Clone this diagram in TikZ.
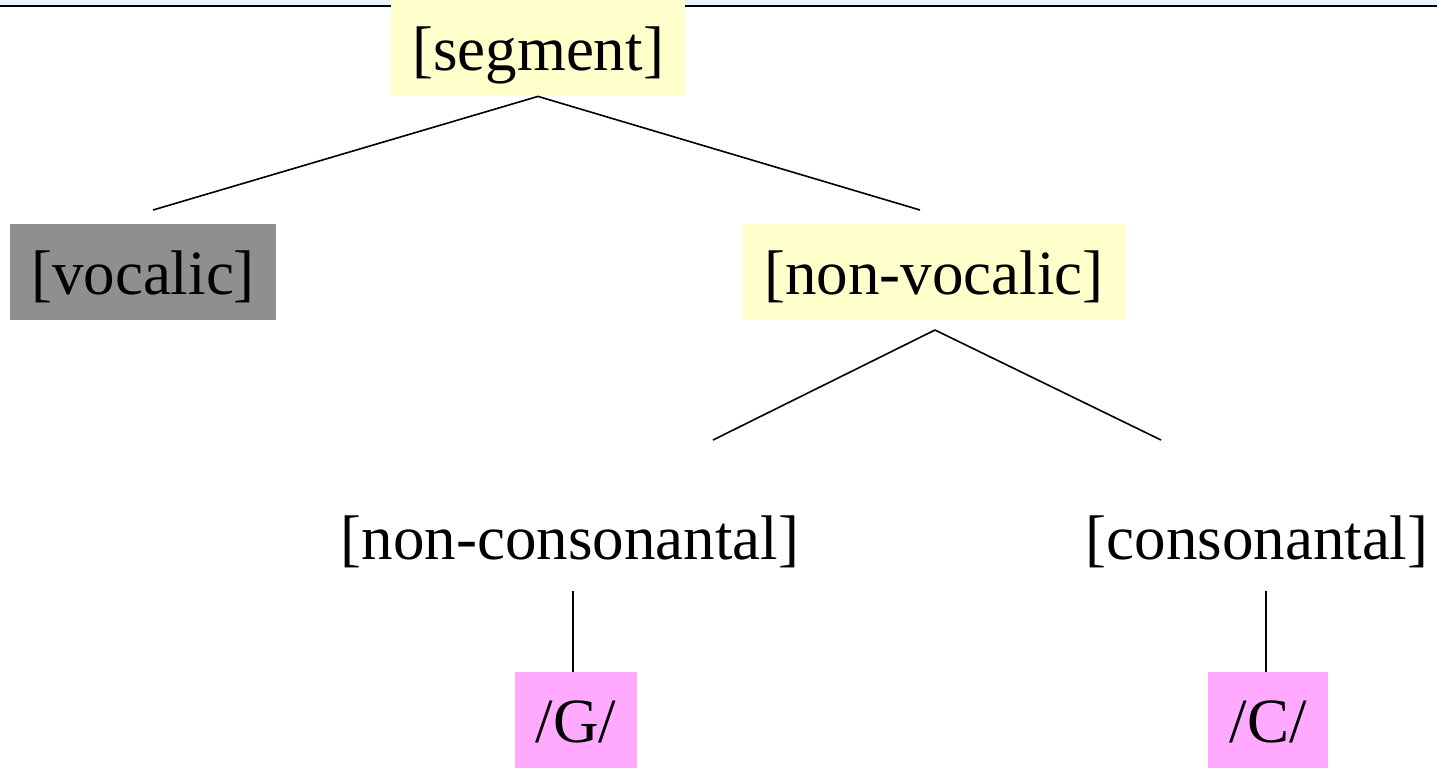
\documentclass[tikz,border=0pt]{standalone}
\usepackage{fontspec}
\setmainfont{Liberation Serif}
\usetikzlibrary{positioning}
\definecolor{paleyellow}{HTML}{FFFFCC}
\definecolor{midgray}{HTML}{8F8F8F}
\definecolor{lilac}{HTML}{FFAAFF}
\definecolor{paleblue}{HTML}{E8F4FF}
\tikzset{
    feature/.style={font=\fontsize{31.5}{38}\selectfont, inner xsep=10.5pt, inner ysep=0pt,
        minimum height=48pt, text height=28pt, text depth=6pt},
    branch/.style={line width=0.8pt}
}
\begin{document}
\begin{tikzpicture}[x=0.5pt, y=-0.5pt]

\useasboundingbox (0,0) rectangle (1437,768);
\fill[paleblue] (0,0) rectangle (1437,5);
\draw[line width=1.2pt] (0,6) -- (1437,6);

\node[feature, fill=paleyellow] (segment) at (538,48) {[segment]};
\node[feature, fill=midgray] (vocalic) at (143,272) {[vocalic]};
\node[feature, fill=paleyellow] (nonvocalic) at (934,272) {[non-vocalic]};
\node[feature] (noncons) at (570,537) {[non-consonantal]};
\node[feature] (cons) at (1257,537) {[consonantal]};
\node[feature, fill=lilac] (G) at (576,720) {/G/};
\node[feature, fill=lilac] (C) at (1268,720) {/C/};

\coordinate (voc-top) at (153,210);
\coordinate (nonvoc-top) at (920,210);
\coordinate (nonvoc-bot) at (935,330);
\coordinate (noncons-top) at (713,440);
\coordinate (cons-top) at (1161,440);

\draw[branch] (segment.south) -- (voc-top);
\draw[branch] (segment.south) -- (nonvoc-top);
\draw[branch] (nonvoc-bot) -- (noncons-top);
\draw[branch] (nonvoc-bot) -- (cons-top);
\draw[branch] (G.north -| 573,0) ++(0,-81) -- (G.north -| 573,0);
\draw[branch] (C.north -| 1266,0) ++(0,-81) -- (C.north -| 1266,0);

\end{tikzpicture}
\end{document}
